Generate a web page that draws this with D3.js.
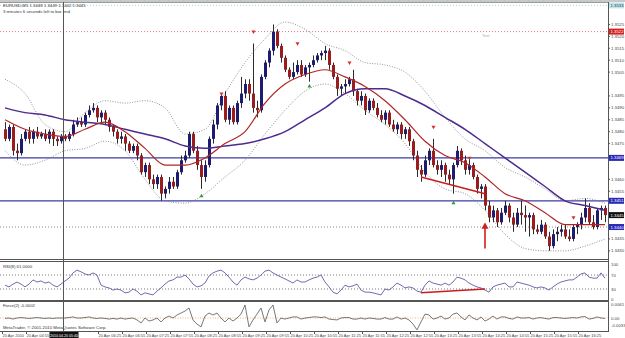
<!DOCTYPE html>
<html>
<head>
<meta charset="utf-8">
<script src="https://cdn.jsdelivr.net/npm/d3@7"></script>
<style>
body { margin: 0; background: #fff; }
svg { display: block; }
text { font-family: "Liberation Sans", Arial, sans-serif; }
</style>
</head>
<body>
<div id="chart"></div>
<script>
// EURUSD M5 candles (one per 5 minutes)
var opens = [1.3481,1.3477,1.3482,1.3472,1.3471,1.3477,1.3480,1.3477,1.3480,1.3478,
1.3479,1.3477,1.3480,1.3477,1.3476,1.3478,1.3477,1.3479,1.3483,1.3484,
1.3483,1.3487,1.3489,1.3490,1.3486,1.3488,1.3485,1.3482,1.3480,1.3477,
1.3478,1.3475,1.3472,1.3474,1.3470,1.3463,1.3466,1.3460,1.3458,1.3461,
1.3454,1.3456,1.3459,1.3457,1.3463,1.3468,1.3470,1.3479,1.3472,1.3466,
1.3461,1.3466,1.3477,1.3483,1.3491,1.3495,1.3485,1.3490,1.3484,1.3492,
1.3496,1.3500,1.3496,1.3490,1.3489,1.3503,1.3509,1.3514,1.3522,1.3516,
1.3511,1.3506,1.3503,1.3505,1.3508,1.3504,1.3507,1.3508,1.3510,1.3512,
1.3513,1.3514,1.3508,1.3503,1.3498,1.3499,1.3500,1.3502,1.3497,1.3493,
1.3495,1.3489,1.3493,1.3490,1.3487,1.3485,1.3488,1.3483,1.3481,1.3483,
1.3479,1.3481,1.3476,1.3470,1.3464,1.3462,1.3468,1.3472,1.3466,1.3464,
1.3466,1.3462,1.3460,1.3466,1.3472,1.3468,1.3464,1.3466,1.3461,1.3456,
1.3457,1.3449,1.3444,1.3447,1.3442,1.3446,1.3449,1.3444,1.3441,1.3446,
1.3445,1.3444,1.3445,1.3439,1.3438,1.3441,1.3436,1.3432,1.3437,1.3438,
1.3439,1.3436,1.3435,1.3440,1.3441,1.3444,1.3448,1.3442,1.3440,1.3447,
1.3448];
var highs = [1.3484,1.3483,1.3483,1.3475,1.3479,1.3481,1.3482,1.3481,1.3482,1.3480,
1.3481,1.3481,1.3481,1.3478,1.3479,1.3479,1.3480,1.3485,1.3486,1.3486,
1.3488,1.3491,1.3492,1.3491,1.3489,1.3489,1.3486,1.3483,1.3481,1.3480,
1.3479,1.3476,1.3475,1.3475,1.3471,1.3467,1.3467,1.3462,1.3462,1.3462,
1.3457,1.3461,1.3461,1.3464,1.3470,1.3472,1.3480,1.3480,1.3474,1.3468,
1.3468,1.3478,1.3485,1.3492,1.3496,1.3497,1.3491,1.3491,1.3493,1.3503,
1.3502,1.3502,1.3517,1.3493,1.3504,1.3510,1.3515,1.3525,1.3523,1.3517,
1.3512,1.3507,1.3509,1.3510,1.3510,1.3508,1.3509,1.3512,1.3513,1.3514,
1.3516,1.3515,1.3509,1.3504,1.3500,1.3502,1.3503,1.3506,1.3498,1.3497,
1.3496,1.3494,1.3494,1.3492,1.3489,1.3489,1.3489,1.3485,1.3484,1.3484,
1.3482,1.3482,1.3477,1.3472,1.3466,1.3470,1.3473,1.3477,1.3468,1.3468,
1.3467,1.3464,1.3467,1.3474,1.3473,1.3470,1.3469,1.3467,1.3462,1.3458,
1.3458,1.3451,1.3449,1.3448,1.3448,1.3451,1.3450,1.3446,1.3448,1.3451,
1.3449,1.3446,1.3446,1.3441,1.3443,1.3442,1.3438,1.3439,1.3440,1.3441,
1.3441,1.3439,1.3441,1.3442,1.3446,1.3452,1.3450,1.3445,1.3448,1.3449,
1.3449];
var lows = [1.3476,1.3476,1.3470,1.3468,1.3470,1.3476,1.3475,1.3475,1.3477,1.3477,
1.3476,1.3475,1.3474,1.3474,1.3475,1.3476,1.3476,1.3478,1.3482,1.3482,
1.3482,1.3486,1.3488,1.3484,1.3484,1.3483,1.3480,1.3478,1.3475,1.3475,
1.3472,1.3471,1.3471,1.3468,1.3462,1.3461,1.3458,1.3456,1.3456,1.3451,
1.3452,1.3454,1.3456,1.3456,1.3462,1.3467,1.3469,1.3471,1.3464,1.3456,
1.3459,1.3465,1.3475,1.3481,1.3489,1.3484,1.3483,1.3483,1.3483,1.3490,
1.3494,1.3493,1.3488,1.3486,1.3488,1.3502,1.3507,1.3512,1.3515,1.3509,
1.3505,1.3502,1.3502,1.3504,1.3503,1.3503,1.3501,1.3507,1.3509,1.3510,
1.3510,1.3506,1.3502,1.3495,1.3495,1.3496,1.3499,1.3495,1.3491,1.3491,
1.3487,1.3488,1.3489,1.3486,1.3484,1.3483,1.3482,1.3480,1.3479,1.3477,
1.3477,1.3474,1.3468,1.3461,1.3459,1.3461,1.3466,1.3465,1.3462,1.3461,
1.3459,1.3458,1.3454,1.3465,1.3466,1.3462,1.3462,1.3460,1.3454,1.3452,
1.3447,1.3442,1.3442,1.3440,1.3441,1.3445,1.3442,1.3438,1.3440,1.3441,
1.3438,1.3436,1.3437,1.3437,1.3437,1.3435,1.3430,1.3431,1.3434,1.3436,
1.3435,1.3434,1.3434,1.3437,1.3439,1.3442,1.3441,1.3439,1.3439,1.3443,
1.3442];
var closes = [1.3477,1.3482,1.3472,1.3471,1.3477,1.3480,1.3477,1.3480,1.3478,1.3479,
1.3477,1.3480,1.3477,1.3476,1.3478,1.3477,1.3479,1.3483,1.3484,1.3483,
1.3487,1.3489,1.3490,1.3486,1.3488,1.3485,1.3482,1.3480,1.3477,1.3478,
1.3475,1.3472,1.3474,1.3470,1.3463,1.3466,1.3460,1.3458,1.3461,1.3454,
1.3456,1.3459,1.3457,1.3463,1.3468,1.3470,1.3479,1.3472,1.3466,1.3461,
1.3466,1.3477,1.3483,1.3491,1.3495,1.3485,1.3490,1.3484,1.3492,1.3496,
1.3500,1.3496,1.3490,1.3489,1.3503,1.3509,1.3514,1.3522,1.3516,1.3511,
1.3506,1.3503,1.3505,1.3508,1.3504,1.3507,1.3508,1.3510,1.3512,1.3513,
1.3514,1.3508,1.3503,1.3498,1.3499,1.3500,1.3502,1.3497,1.3493,1.3495,
1.3489,1.3493,1.3490,1.3487,1.3485,1.3488,1.3483,1.3481,1.3483,1.3479,
1.3481,1.3476,1.3470,1.3464,1.3462,1.3468,1.3472,1.3466,1.3464,1.3466,
1.3462,1.3460,1.3466,1.3472,1.3468,1.3464,1.3466,1.3461,1.3456,1.3457,
1.3449,1.3444,1.3447,1.3442,1.3446,1.3449,1.3444,1.3441,1.3446,1.3445,
1.3444,1.3445,1.3439,1.3438,1.3441,1.3436,1.3432,1.3437,1.3438,1.3439,
1.3436,1.3435,1.3440,1.3441,1.3444,1.3448,1.3442,1.3440,1.3447,1.3448,
1.3445];

// indicator readings, taken every 5 bars
var maIdx = [0,5,10,15,20,25,30,35,40,45,50,55,60,65,70,75,80,85,90,95,100,105,110,115,120,125,130,135,140,145,150];
var maFast = [1.3485,1.3481,1.3479,1.3478,1.3481,1.3484,1.3480,1.3473,1.3466,1.3466,1.3469,1.3475,1.3480,1.3492,1.3500,1.3504,1.3506,1.3503,1.3499,1.3493,1.3485,1.3476,1.3470,1.3467,1.3461,1.3454,1.3451,1.3446,1.3441,1.3441,1.3441];
var maSlow = [1.3490,1.3488,1.3487,1.3485,1.3484,1.3483,1.3481,1.3479,1.3477,1.3474,1.3473,1.3474,1.3475,1.3477,1.3480,1.3485,1.3490,1.3496,1.3498,1.3498,1.3495,1.3491,1.3486,1.3481,1.3475,1.3469,1.3463,1.3457,1.3451,1.3449,1.3447];
var bandUp = [1.3502,1.3496,1.3483,1.3480,1.3488,1.3493,1.3492,1.3493,1.3490,1.3479,1.3481,1.3496,1.3509,1.3519,1.3526,1.3523,1.3517,1.3514,1.3509,1.3508,1.3505,1.3497,1.3486,1.3477,1.3472,1.3465,1.3461,1.3456,1.3451,1.3452,1.3450];
var bandLow = [1.3472,1.3466,1.3468,1.3472,1.3473,1.3476,1.3472,1.3460,1.3451,1.3450,1.3454,1.3461,1.3468,1.3479,1.3489,1.3497,1.3500,1.3496,1.3489,1.3483,1.3475,1.3463,1.3456,1.3454,1.3447,1.3437,1.3431,1.3430,1.3430,1.3432,1.3435];

var rsiVals = [41,36,44,50,44,36,44,56,50,53, 47,50,41,36,44,53,61,76,84,79,
73,70,76,70,41,36,33,27,30,27, 19,21,30,24,13,19,16,13,24,33,
44,53,56,64,64,70,59,44,36,39, 47,67,76,81,84,76,64,50,41,56,
64,59,56,61,70,81,84,76,70,64, 59,53,47,56,50,50,56,61,64,70,
50,36,21,16,27,41,36,39,44,27, 21,21,19,16,13,30,27,36,47,41,
33,36,33,24,21,41,53,47,44,41, 47,41,50,64,61,56,47,41,36,33,
27,21,36,41,44,47,36,36,50,47, 44,41,36,33,36,33,27,36,44,50,
53,56,56,64,73,76,64,61,61,76, 61];
var forceVals = [-0.0002,0,-0.0005,0,0.0002,0,-0.0002,0,0.0002,0,
-0.0002,0,-0.0002,0,0,0,0.0002,0.0005,0,0,
0.0002,0.0005,0,-0.0002,0,-0.0002,-0.0005,-0.0002,-0.0005,0,
-0.0005,-0.0002,0,-0.0009,-0.0023,0,-0.0014,-0.0009,0,-0.0018,
0,0.0009,0,0.0014,0.0023,0.0032,0.0046,-0.0009,-0.0028,-0.0041,
0.0009,0.0023,0.0014,0.0023,0,-0.0018,0,-0.0014,0,0.0018,
0.0060,-0.0041,-0.0009,0.0018,0.0046,-0.0018,0.0037,0.0060,-0.0023,0,
-0.0005,0,0.0005,0.0005,-0.0005,0,0.0002,0.0005,0.0005,0.0002,
0.0005,-0.0005,-0.0007,-0.0009,0,0.0002,0.0002,-0.0005,-0.0005,0,
-0.0005,0,-0.0002,-0.0005,-0.0005,0.0002,-0.0005,-0.0005,0.0005,-0.0005,
0,-0.0009,-0.0028,-0.0055,-0.0018,0.0018,0.0014,-0.0005,0,0.0009,
-0.0005,0,0.0018,0.0023,0.0005,-0.0009,0.0014,0,-0.0009,0.0005,
-0.0014,-0.0005,0.0009,-0.0005,0.0005,0.0005,-0.0002,-0.0005,0.0005,0,
0,0.0002,-0.0005,0,0.0002,-0.0002,-0.0005,0.0002,0.0002,0,
-0.0002,0,0.0002,0,0.0005,0.0007,-0.0005,-0.0002,0.0005,0,
-0.0002];

// fractal arrows
var upMarkIdx = [54,62,73,86,107,116,142];
var upMarkPrice = [1.3496,1.3522,1.3517,1.3509,1.3482,1.3469,1.3444];
var downMarkIdx = [49,76,112];
var downMarkPrice = [1.3453,1.3499,1.3450];

// drawn objects
var blueLevels = [1.3469, 1.3451];
var dotLevel = 1.3440;
var redLevel = 1.3522;
var cyanLevel = 1.3533;
var trendIdx = [104, 120], trendPrice = [1.3461, 1.3454];
var arrowIdx = 120, arrowPrice = [1.3431, 1.3441];
var rsiTrendIdx = [104, 120], rsiTrendVal = [19, 30];
var crossIdx = 15;
var crossLabel = "2010.04.20 05:40";

var priceTicks = [1.3525,1.3520,1.3515,1.3510,1.3505,1.3495,1.3490,1.3485,1.3480,1.3475,1.3460,1.3455,1.3435,1.3430];
var rsiTicks = [100, 70, 30, 0];
var forceTicks = [0.0061, 0, -0.0033];
var timeTickIdx = [0,6,12,18,24,30,36,42,48,54,60,66,72,78,84,90,96,102,108,114,120,126,132,138,144];
var timeTicks = ["20 Apr 2010","20 Apr 04:55","20 Apr 05:25","20 Apr 05:55","20 Apr 06:25","20 Apr 06:55",
"20 Apr 07:25","20 Apr 07:55","20 Apr 08:25","20 Apr 08:55","20 Apr 09:25","20 Apr 09:55","20 Apr 10:25",
"20 Apr 10:55","20 Apr 11:25","20 Apr 11:55","20 Apr 12:25","20 Apr 12:55","20 Apr 13:25","20 Apr 13:55",
"20 Apr 14:25","20 Apr 14:55","20 Apr 15:25","20 Apr 15:55","20 Apr 16:25"];

var W = 625, H = 338;
var axisX = 608;
var N = closes.length;

var svg = d3.select("#chart").append("svg")
  .attr("width", W)
  .attr("height", H);

svg.append("rect").attr("width", W).attr("height", H).attr("fill", "#fff");
svg.append("rect").attr("width", W).attr("height", 2).attr("fill", "#c8c8c8");

// scales
var x = d3.scaleLinear().domain([0, N - 1]).range([5, 605]);
var y = d3.scaleLinear().domain([1.3427, 1.3534]).range([258, 3]);
var yR = d3.scaleLinear().domain([0, 100]).range([299.5, 264.5]);
var yF = d3.scaleLinear().domain([-0.006, 0.006]).range([331, 305]);

svg.append("clipPath").attr("id", "cMain")
  .append("rect").attr("x", 0).attr("y", 2).attr("width", axisX).attr("height", 257);
svg.append("clipPath").attr("id", "cRsi")
  .append("rect").attr("x", 0).attr("y", 262).attr("width", axisX).attr("height", 38);
svg.append("clipPath").attr("id", "cForce")
  .append("rect").attr("x", 0).attr("y", 302).attr("width", axisX).attr("height", 29);

var main = svg.append("g").attr("clip-path", "url(#cMain)");

// horizontal objects
main.append("line")
  .attr("x1", 0).attr("x2", axisX)
  .attr("y1", y(cyanLevel)).attr("y2", y(cyanLevel))
  .attr("stroke", "#9fd8e8").attr("stroke-dasharray", "1,2");
main.append("line")
  .attr("x1", 0).attr("x2", axisX)
  .attr("y1", y(redLevel)).attr("y2", y(redLevel))
  .attr("stroke", "#e07a7a").attr("stroke-dasharray", "1,2");
main.append("text").attr("x", 482).attr("y", y(redLevel) + 5)
  .attr("font-size", 4).attr("fill", "#aaa").text("Text");
main.append("line")
  .attr("x1", 0).attr("x2", axisX)
  .attr("y1", y(dotLevel)).attr("y2", y(dotLevel))
  .attr("stroke", "#888").attr("stroke-dasharray", "1,2");
main.selectAll(".blv").data(blueLevels).enter().append("line")
  .attr("x1", 0).attr("x2", axisX)
  .attr("y1", function(d) { return y(d); }).attr("y2", function(d) { return y(d); })
  .attr("stroke", "#3c3ca8").attr("stroke-width", 1.3);

// bollinger bands
var lineFn = function(vals) {
  return d3.line()
    .x(function(d, k) { return x(maIdx[k]); })
    .y(function(d) { return y(d); })
    .curve(d3.curveMonotoneX)(vals);
};
[bandUp, bandLow].forEach(function(b) {
  main.append("path").attr("d", lineFn(b))
    .attr("fill", "none").attr("stroke", "#7a7a7a")
    .attr("stroke-width", 0.8).attr("stroke-dasharray", "1,1.5");
});

// candles
var cg = main.append("g");
cg.selectAll(".wick").data(closes).enter().append("line")
  .attr("x1", function(d, i) { return x(i) + 0.5; })
  .attr("x2", function(d, i) { return x(i) + 0.5; })
  .attr("y1", function(d, i) { return y(highs[i]); })
  .attr("y2", function(d, i) { return y(lows[i]); })
  .attr("stroke", "#2b2b2b").attr("stroke-width", 1);
cg.selectAll(".body").data(closes).enter().append("rect")
  .attr("x", function(d, i) { return x(i) - 1; })
  .attr("width", 3)
  .attr("y", function(d, i) { return y(Math.max(opens[i], d)); })
  .attr("height", function(d, i) { return Math.max(1, y(Math.min(opens[i], d)) - y(Math.max(opens[i], d))); })
  .attr("fill", function(d, i) { return d >= opens[i] ? "#1e1c70" : "#9a1d1d"; });

// moving averages
main.append("path").attr("d", lineFn(maSlow))
  .attr("fill", "none").attr("stroke", "#4e2a8e").attr("stroke-width", 1.5);
main.append("path").attr("d", lineFn(maFast))
  .attr("fill", "none").attr("stroke", "#b02626").attr("stroke-width", 1.2);

// red trend line and arrow
main.append("line")
  .attr("x1", x(trendIdx[0])).attr("x2", x(trendIdx[1]))
  .attr("y1", y(trendPrice[0])).attr("y2", y(trendPrice[1]))
  .attr("stroke", "#c81e1e").attr("stroke-width", 1.5);
main.append("line")
  .attr("x1", x(arrowIdx)).attr("x2", x(arrowIdx))
  .attr("y1", y(arrowPrice[0])).attr("y2", y(arrowPrice[1]) + 3)
  .attr("stroke", "#d02020").attr("stroke-width", 1.6);
main.append("path")
  .attr("d", d3.symbol(d3.symbolTriangle, 22)())
  .attr("transform", "translate(" + x(arrowIdx) + "," + (y(arrowPrice[1]) + 2) + ")")
  .attr("fill", "#d02020");

// fractal marks
main.selectAll(".up").data(upMarkIdx).enter().append("path")
  .attr("d", d3.symbol(d3.symbolTriangle, 7)())
  .attr("transform", function(d, k) { return "translate(" + (x(d) + 0.5) + "," + y(upMarkPrice[k]) + ") rotate(180)"; })
  .attr("fill", "#d43030");
main.selectAll(".dn").data(downMarkIdx).enter().append("path")
  .attr("d", d3.symbol(d3.symbolTriangle, 7)())
  .attr("transform", function(d, k) { return "translate(" + (x(d) + 0.5) + "," + y(downMarkPrice[k]) + ")"; })
  .attr("fill", "#2e9a3a");

// title
main.append("text").attr("x", 3).attr("y", 7).attr("font-size", 4.3).attr("fill", "#333")
  .text("EURUSD,M5  " + [opens[N-1], highs[N-1], lows[N-1], closes[N-1]].map(function(v) { return v.toFixed(4); }).join(" "));
main.append("text").attr("x", 3).attr("y", 12.5).attr("font-size", 4.3).attr("fill", "#333")
  .text("3 minutes 6 seconds left to bar end");

// RSI pane
var rsiG = svg.append("g").attr("clip-path", "url(#cRsi)");
[70, 30].forEach(function(v) {
  rsiG.append("line").attr("x1", 0).attr("x2", axisX)
    .attr("y1", yR(v)).attr("y2", yR(v))
    .attr("stroke", "#555").attr("stroke-dasharray", "1,2").attr("stroke-width", 0.8);
});
rsiG.append("path")
  .attr("d", d3.line().x(function(d, i) { return x(i); }).y(function(d) { return yR(d); })(rsiVals))
  .attr("fill", "none").attr("stroke", "#5c5ca6").attr("stroke-width", 0.9);
rsiG.append("line")
  .attr("x1", x(rsiTrendIdx[0])).attr("x2", x(rsiTrendIdx[1]))
  .attr("y1", yR(rsiTrendVal[0])).attr("y2", yR(rsiTrendVal[1]))
  .attr("stroke", "#c81e1e").attr("stroke-width", 1.5);
rsiG.append("text").attr("x", 3).attr("y", 268).attr("font-size", 4.3).attr("fill", "#333")
  .text("RSI(8) " + rsiVals[N-1].toFixed(4));

// Force pane
var fG = svg.append("g").attr("clip-path", "url(#cForce)");
fG.append("line").attr("x1", 0).attr("x2", axisX)
  .attr("y1", yF(0)).attr("y2", yF(0))
  .attr("stroke", "#e8a060").attr("stroke-dasharray", "1,1.5").attr("stroke-width", 0.8);
fG.append("path")
  .attr("d", d3.line().x(function(d, i) { return x(i); }).y(function(d) { return yF(d); })(forceVals))
  .attr("fill", "none").attr("stroke", "#555").attr("stroke-width", 0.8);
fG.append("text").attr("x", 3).attr("y", 307).attr("font-size", 4.3).attr("fill", "#333")
  .text("Force(2) " + forceVals[N-1].toFixed(4));
fG.append("text").attr("x", 3).attr("y", 329).attr("font-size", 4.3).attr("fill", "#333")
  .text("MetaTrader, \u00a9 2001-2010 MetaQuotes Software Corp.");

// pane frames
[[2.5, "#999"], [259.5, "#555"], [261.5, "#555"], [300.5, "#555"], [301.5, "#555"], [331.5, "#555"]].forEach(function(p) {
  svg.append("line").attr("x1", 0).attr("x2", axisX).attr("y1", p[0]).attr("y2", p[0])
    .attr("stroke", p[1]).attr("stroke-width", 1);
});
svg.append("line").attr("x1", axisX + 0.5).attr("x2", axisX + 0.5).attr("y1", 2).attr("y2", 332)
  .attr("stroke", "#555");

// crosshair
var crossX = x(crossIdx) - 1.5;
svg.append("line").attr("x1", crossX).attr("x2", crossX).attr("y1", 2).attr("y2", 332)
  .attr("stroke", "#555").attr("stroke-width", 1);

// price axis
var axG = svg.append("g");
axG.selectAll(".pt").data(priceTicks).enter().append("line")
  .attr("x1", axisX).attr("x2", axisX + 2)
  .attr("y1", function(d) { return y(d); }).attr("y2", function(d) { return y(d); })
  .attr("stroke", "#555");
axG.selectAll(".pl").data(priceTicks).enter().append("text")
  .attr("x", axisX + 3).attr("y", function(d) { return y(d); })
  .attr("dy", "0.35em").attr("font-size", 4.3).attr("fill", "#444")
  .text(function(d) { return d.toFixed(4); });

function tag(v, yy, bg, fg) {
  axG.append("rect").attr("x", axisX + 1).attr("y", yy - 3).attr("width", 15).attr("height", 6).attr("fill", bg);
  axG.append("text").attr("x", axisX + 2.5).attr("y", yy).attr("dy", "0.35em")
    .attr("font-size", 4.3).attr("fill", fg).text(v.toFixed(4));
}
tag(cyanLevel, y(cyanLevel), "#bfe6f0", "#333");
tag(redLevel, y(redLevel), "#d42020", "#fff");
blueLevels.forEach(function(v) { tag(v, y(v), "#2a2ab8", "#fff"); });
tag(closes[N-1], y(closes[N-1]), "#111", "#fff");
tag(dotLevel, y(dotLevel), "#2a2ab8", "#fff");

rsiTicks.forEach(function(v) {
  axG.append("text").attr("x", axisX + 3).attr("y", yR(v)).attr("dy", "0.35em")
    .attr("font-size", 4.3).attr("fill", "#444").text(v);
});
forceTicks.forEach(function(v) {
  axG.append("text").attr("x", axisX + 3).attr("y", yF(v)).attr("dy", "0.35em")
    .attr("font-size", 4.3).attr("fill", "#444").text(v === 0 ? "0.00" : v.toFixed(4));
});

// time axis; the crosshair date box hides the labels it covers
var boxL = crossX - 14, boxR = crossX + 15;
axG.selectAll(".tt").data(timeTickIdx).enter().append("line")
  .attr("x1", function(d) { return x(d) - 2.5; }).attr("x2", function(d) { return x(d) - 2.5; })
  .attr("y1", 331).attr("y2", 334).attr("stroke", "#555");
axG.selectAll(".tl").data(timeTickIdx).enter().append("text")
  .attr("x", function(d) { return x(d) - 2.5; }).attr("y", 336.5)
  .attr("font-size", 4.0).attr("fill", "#444")
  .text(function(d, k) { return timeTicks[k]; })
  .each(function() {
    var lx = +this.getAttribute("x"), w = this.getComputedTextLength();
    if (lx + w > boxL && lx < boxR) d3.select(this).remove();
  });

axG.append("rect").attr("x", boxL).attr("y", 332).attr("width", boxR - boxL).attr("height", 6).attr("fill", "#111");
axG.append("text").attr("x", (boxL + boxR) / 2).attr("y", 336.5).attr("text-anchor", "middle")
  .attr("font-size", 3.6).attr("fill", "#fff").text(crossLabel);
</script>
</body>
</html>
